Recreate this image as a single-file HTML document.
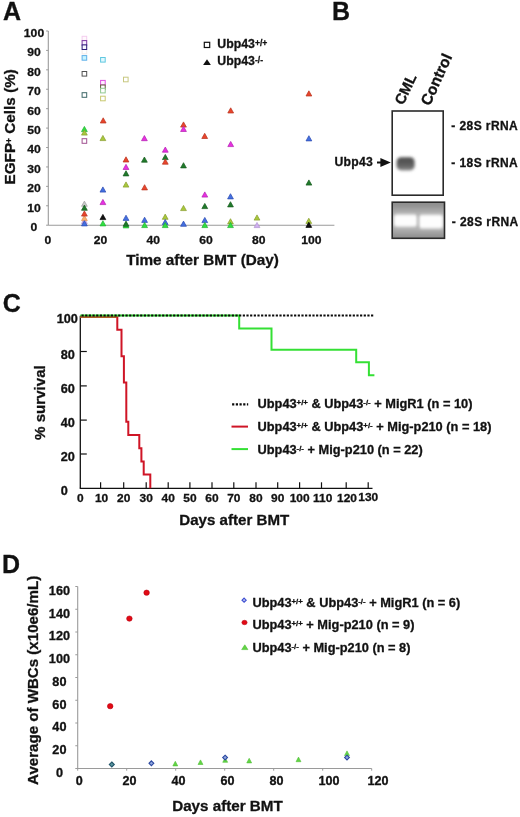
<!DOCTYPE html>
<html><head><meta charset="utf-8"><style>
html,body{margin:0;padding:0;background:#fff;}
svg{display:block;filter:blur(0.35px);}
text{font-family:"Liberation Sans", sans-serif;stroke:#111;stroke-width:0.3px;paint-order:stroke;}
</style></head><body>
<svg width="520" height="817" viewBox="0 0 520 817">
<rect width="520" height="817" fill="#fff"/>
<text x="3.10" y="20.40" font-size="25" text-anchor="start" font-weight="bold" fill="#111" >A</text>
<text x="332.10" y="20.40" font-size="25" text-anchor="start" font-weight="bold" fill="#111" >B</text>
<text x="2.80" y="311.60" font-size="25" text-anchor="start" font-weight="bold" fill="#111" >C</text>
<text x="2.00" y="572.80" font-size="25" text-anchor="start" font-weight="bold" fill="#111" >D</text>
<line x1="48.3" y1="31.0" x2="48.3" y2="225.2" stroke="#9a9a9a" stroke-width="1.1"/>
<line x1="48.3" y1="225.2" x2="334.4" y2="225.2" stroke="#9a9a9a" stroke-width="1.1"/>
<line x1="46.099999999999994" y1="225.20" x2="48.3" y2="225.20" stroke="#9a9a9a" stroke-width="1"/>
<text x="0" y="0" transform="translate(34.00 231.10) scale(1.03 1.0)" font-size="11.8" text-anchor="middle" font-weight="bold" fill="#111" >0</text>
<line x1="46.099999999999994" y1="205.78" x2="48.3" y2="205.78" stroke="#9a9a9a" stroke-width="1"/>
<text x="0" y="0" transform="translate(34.00 211.68) scale(1.03 1.0)" font-size="11.8" text-anchor="middle" font-weight="bold" fill="#111" >10</text>
<line x1="46.099999999999994" y1="186.36" x2="48.3" y2="186.36" stroke="#9a9a9a" stroke-width="1"/>
<text x="0" y="0" transform="translate(34.00 192.26) scale(1.03 1.0)" font-size="11.8" text-anchor="middle" font-weight="bold" fill="#111" >20</text>
<line x1="46.099999999999994" y1="166.94" x2="48.3" y2="166.94" stroke="#9a9a9a" stroke-width="1"/>
<text x="0" y="0" transform="translate(34.00 172.84) scale(1.03 1.0)" font-size="11.8" text-anchor="middle" font-weight="bold" fill="#111" >30</text>
<line x1="46.099999999999994" y1="147.52" x2="48.3" y2="147.52" stroke="#9a9a9a" stroke-width="1"/>
<text x="0" y="0" transform="translate(34.00 153.42) scale(1.03 1.0)" font-size="11.8" text-anchor="middle" font-weight="bold" fill="#111" >40</text>
<line x1="46.099999999999994" y1="128.10" x2="48.3" y2="128.10" stroke="#9a9a9a" stroke-width="1"/>
<text x="0" y="0" transform="translate(34.00 134.00) scale(1.03 1.0)" font-size="11.8" text-anchor="middle" font-weight="bold" fill="#111" >50</text>
<line x1="46.099999999999994" y1="108.68" x2="48.3" y2="108.68" stroke="#9a9a9a" stroke-width="1"/>
<text x="0" y="0" transform="translate(34.00 114.58) scale(1.03 1.0)" font-size="11.8" text-anchor="middle" font-weight="bold" fill="#111" >60</text>
<line x1="46.099999999999994" y1="89.26" x2="48.3" y2="89.26" stroke="#9a9a9a" stroke-width="1"/>
<text x="0" y="0" transform="translate(34.00 95.16) scale(1.03 1.0)" font-size="11.8" text-anchor="middle" font-weight="bold" fill="#111" >70</text>
<line x1="46.099999999999994" y1="69.84" x2="48.3" y2="69.84" stroke="#9a9a9a" stroke-width="1"/>
<text x="0" y="0" transform="translate(34.00 75.74) scale(1.03 1.0)" font-size="11.8" text-anchor="middle" font-weight="bold" fill="#111" >80</text>
<line x1="46.099999999999994" y1="50.42" x2="48.3" y2="50.42" stroke="#9a9a9a" stroke-width="1"/>
<text x="0" y="0" transform="translate(34.00 56.32) scale(1.03 1.0)" font-size="11.8" text-anchor="middle" font-weight="bold" fill="#111" >90</text>
<line x1="46.099999999999994" y1="31.00" x2="48.3" y2="31.00" stroke="#9a9a9a" stroke-width="1"/>
<text x="0" y="0" transform="translate(34.00 36.90) scale(1.03 1.0)" font-size="11.8" text-anchor="middle" font-weight="bold" fill="#111" >100</text>
<text x="0" y="0" transform="translate(47.90 244.10) scale(1.03 1.0)" font-size="11.8" text-anchor="middle" font-weight="bold" fill="#111" >0</text>
<text x="0" y="0" transform="translate(100.60 244.10) scale(1.03 1.0)" font-size="11.8" text-anchor="middle" font-weight="bold" fill="#111" >20</text>
<text x="0" y="0" transform="translate(153.30 244.10) scale(1.03 1.0)" font-size="11.8" text-anchor="middle" font-weight="bold" fill="#111" >40</text>
<text x="0" y="0" transform="translate(206.00 244.10) scale(1.03 1.0)" font-size="11.8" text-anchor="middle" font-weight="bold" fill="#111" >60</text>
<text x="0" y="0" transform="translate(258.70 244.10) scale(1.03 1.0)" font-size="11.8" text-anchor="middle" font-weight="bold" fill="#111" >80</text>
<text x="0" y="0" transform="translate(311.40 244.10) scale(1.03 1.0)" font-size="11.8" text-anchor="middle" font-weight="bold" fill="#111" >100</text>
<text x="15.10" y="126.80" font-size="15.3" text-anchor="middle" font-weight="bold" fill="#111" transform="rotate(-90 15.1 126.8)">EGFP<tspan font-size="8.5" dy="-3.4">+</tspan><tspan dy="3.4"> Cells (%)</tspan></text>
<text x="126.20" y="264.60" font-size="15.3" text-anchor="start" font-weight="bold" fill="#111" >Time after BMT (Day)</text>
<rect x="82.10" y="49.30" width="4.6" height="4.6" fill="#ffffff" stroke="#f4ecea" stroke-width="1.0"/>
<rect x="82.10" y="36.30" width="4.6" height="4.6" fill="#fff8fd" stroke="#f4cdee" stroke-width="1.0"/>
<rect x="82.10" y="40.60" width="4.6" height="4.6" fill="#f8f0ff" stroke="#7a38a0" stroke-width="1.0"/>
<rect x="82.10" y="44.90" width="4.6" height="4.6" fill="#f8f8ff" stroke="#2c1c78" stroke-width="1.0"/>
<rect x="82.10" y="55.60" width="4.6" height="4.6" fill="#c8f4ff" stroke="#60b0e8" stroke-width="1.0"/>
<rect x="82.10" y="71.50" width="4.6" height="4.6" fill="#ffffff" stroke="#505050" stroke-width="1.0"/>
<rect x="82.10" y="92.70" width="4.6" height="4.6" fill="#ffffff" stroke="#3e6868" stroke-width="1.0"/>
<rect x="82.10" y="138.70" width="4.6" height="4.6" fill="#ffffff" stroke="#a05090" stroke-width="1.0"/>
<rect x="100.60" y="57.50" width="4.6" height="4.6" fill="#e0f8ff" stroke="#60c8e0" stroke-width="1.0"/>
<rect x="100.60" y="80.40" width="4.6" height="4.6" fill="#fff0ff" stroke="#e050e0" stroke-width="1.0"/>
<rect x="100.60" y="85.00" width="4.6" height="4.6" fill="#ffffff" stroke="#605838" stroke-width="1.0"/>
<rect x="100.60" y="88.30" width="4.6" height="4.6" fill="#ffffff" stroke="#90c890" stroke-width="1.0"/>
<rect x="100.60" y="96.20" width="4.6" height="4.6" fill="#ffffff" stroke="#c8c870" stroke-width="1.0"/>
<rect x="123.50" y="77.20" width="4.6" height="4.6" fill="#ffffff" stroke="#c8c880" stroke-width="1.0"/>
<path d="M84.40 126.40 L87.30 131.60 L81.50 131.60 Z" fill="#30e040" stroke="#20b030" stroke-width="0.7" stroke-linejoin="miter"/>
<path d="M84.40 129.90 L87.30 135.10 L81.50 135.10 Z" fill="#a8c83c" stroke="#889c2c" stroke-width="0.7" stroke-linejoin="miter"/>
<path d="M84.40 218.40 L87.30 223.60 L81.50 223.60 Z" fill="#d0b0f0" stroke="#b090d0" stroke-width="0.7" stroke-linejoin="miter"/>
<path d="M84.40 201.10 L87.30 206.30 L81.50 206.30 Z" fill="#c8c8c8" stroke="#a0a0a0" stroke-width="0.7" stroke-linejoin="miter"/>
<path d="M84.40 205.10 L87.30 210.30 L81.50 210.30 Z" fill="#1f7a2a" stroke="#155a1c" stroke-width="0.7" stroke-linejoin="miter"/>
<path d="M84.40 215.40 L87.30 220.60 L81.50 220.60 Z" fill="#f8b070" stroke="#e09050" stroke-width="0.7" stroke-linejoin="miter"/>
<path d="M84.40 210.90 L87.30 216.10 L81.50 216.10 Z" fill="#e8452c" stroke="#b8301c" stroke-width="0.7" stroke-linejoin="miter"/>
<path d="M84.40 220.70 L87.30 225.90 L81.50 225.90 Z" fill="#4470e0" stroke="#2848b0" stroke-width="0.7" stroke-linejoin="miter"/>
<path d="M103.20 117.80 L106.10 123.00 L100.30 123.00 Z" fill="#e8452c" stroke="#b8301c" stroke-width="0.7" stroke-linejoin="miter"/>
<path d="M102.90 135.40 L105.80 140.60 L100.00 140.60 Z" fill="#a8c83c" stroke="#889c2c" stroke-width="0.7" stroke-linejoin="miter"/>
<path d="M102.90 186.90 L105.80 192.10 L100.00 192.10 Z" fill="#4470e0" stroke="#2848b0" stroke-width="0.7" stroke-linejoin="miter"/>
<path d="M102.90 199.40 L105.80 204.60 L100.00 204.60 Z" fill="#e830e0" stroke="#b020b0" stroke-width="0.7" stroke-linejoin="miter"/>
<path d="M102.90 214.40 L105.80 219.60 L100.00 219.60 Z" fill="#111111" stroke="#000000" stroke-width="0.7" stroke-linejoin="miter"/>
<path d="M102.90 220.70 L105.80 225.90 L100.00 225.90 Z" fill="#30e040" stroke="#20b030" stroke-width="0.7" stroke-linejoin="miter"/>
<path d="M126.00 156.80 L128.90 162.00 L123.10 162.00 Z" fill="#e8452c" stroke="#b8301c" stroke-width="0.7" stroke-linejoin="miter"/>
<path d="M126.00 164.30 L128.90 169.50 L123.10 169.50 Z" fill="#e830e0" stroke="#b020b0" stroke-width="0.7" stroke-linejoin="miter"/>
<path d="M126.00 170.70 L128.90 175.90 L123.10 175.90 Z" fill="#1f7a2a" stroke="#155a1c" stroke-width="0.7" stroke-linejoin="miter"/>
<path d="M126.00 181.90 L128.90 187.10 L123.10 187.10 Z" fill="#a8c83c" stroke="#889c2c" stroke-width="0.7" stroke-linejoin="miter"/>
<path d="M126.00 215.20 L128.90 220.40 L123.10 220.40 Z" fill="#4470e0" stroke="#2848b0" stroke-width="0.7" stroke-linejoin="miter"/>
<path d="M126.00 222.70 L128.90 227.90 L123.10 227.90 Z" fill="#30e040" stroke="#20b030" stroke-width="0.7" stroke-linejoin="miter"/>
<path d="M126.00 221.10 L128.90 226.30 L123.10 226.30 Z" fill="#1f7a2a" stroke="#155a1c" stroke-width="0.7" stroke-linejoin="miter"/>
<path d="M144.40 135.50 L147.30 140.70 L141.50 140.70 Z" fill="#e830e0" stroke="#b020b0" stroke-width="0.7" stroke-linejoin="miter"/>
<path d="M144.40 157.00 L147.30 162.20 L141.50 162.20 Z" fill="#1f7a2a" stroke="#155a1c" stroke-width="0.7" stroke-linejoin="miter"/>
<path d="M144.60 184.70 L147.50 189.90 L141.70 189.90 Z" fill="#e8452c" stroke="#b8301c" stroke-width="0.7" stroke-linejoin="miter"/>
<path d="M144.60 217.20 L147.50 222.40 L141.70 222.40 Z" fill="#4470e0" stroke="#2848b0" stroke-width="0.7" stroke-linejoin="miter"/>
<path d="M144.60 222.40 L147.50 227.60 L141.70 227.60 Z" fill="#30e040" stroke="#20b030" stroke-width="0.7" stroke-linejoin="miter"/>
<path d="M165.30 147.00 L168.20 152.20 L162.40 152.20 Z" fill="#e830e0" stroke="#b020b0" stroke-width="0.7" stroke-linejoin="miter"/>
<path d="M165.30 154.40 L168.20 159.60 L162.40 159.60 Z" fill="#1f7a2a" stroke="#155a1c" stroke-width="0.7" stroke-linejoin="miter"/>
<path d="M165.30 159.00 L168.20 164.20 L162.40 164.20 Z" fill="#e8452c" stroke="#b8301c" stroke-width="0.7" stroke-linejoin="miter"/>
<path d="M165.20 214.10 L168.10 219.30 L162.30 219.30 Z" fill="#a8c83c" stroke="#889c2c" stroke-width="0.7" stroke-linejoin="miter"/>
<path d="M165.20 219.40 L168.10 224.60 L162.30 224.60 Z" fill="#4470e0" stroke="#2848b0" stroke-width="0.7" stroke-linejoin="miter"/>
<path d="M165.20 222.40 L168.10 227.60 L162.30 227.60 Z" fill="#30e040" stroke="#20b030" stroke-width="0.7" stroke-linejoin="miter"/>
<path d="M183.50 121.90 L186.40 127.10 L180.60 127.10 Z" fill="#e8452c" stroke="#b8301c" stroke-width="0.7" stroke-linejoin="miter"/>
<path d="M183.50 126.30 L186.40 131.50 L180.60 131.50 Z" fill="#e830e0" stroke="#b020b0" stroke-width="0.7" stroke-linejoin="miter"/>
<path d="M183.50 162.70 L186.40 167.90 L180.60 167.90 Z" fill="#1f7a2a" stroke="#155a1c" stroke-width="0.7" stroke-linejoin="miter"/>
<path d="M183.50 205.40 L186.40 210.60 L180.60 210.60 Z" fill="#a8c83c" stroke="#889c2c" stroke-width="0.7" stroke-linejoin="miter"/>
<path d="M183.50 221.10 L186.40 226.30 L180.60 226.30 Z" fill="#4470e0" stroke="#2848b0" stroke-width="0.7" stroke-linejoin="miter"/>
<path d="M204.70 133.30 L207.60 138.50 L201.80 138.50 Z" fill="#e8452c" stroke="#b8301c" stroke-width="0.7" stroke-linejoin="miter"/>
<path d="M204.80 191.90 L207.70 197.10 L201.90 197.10 Z" fill="#e830e0" stroke="#b020b0" stroke-width="0.7" stroke-linejoin="miter"/>
<path d="M204.80 203.40 L207.70 208.60 L201.90 208.60 Z" fill="#1f7a2a" stroke="#155a1c" stroke-width="0.7" stroke-linejoin="miter"/>
<path d="M204.80 217.40 L207.70 222.60 L201.90 222.60 Z" fill="#4470e0" stroke="#2848b0" stroke-width="0.7" stroke-linejoin="miter"/>
<path d="M204.80 222.40 L207.70 227.60 L201.90 227.60 Z" fill="#30e040" stroke="#20b030" stroke-width="0.7" stroke-linejoin="miter"/>
<path d="M230.70 107.80 L233.60 113.00 L227.80 113.00 Z" fill="#e8452c" stroke="#b8301c" stroke-width="0.7" stroke-linejoin="miter"/>
<path d="M230.70 141.40 L233.60 146.60 L227.80 146.60 Z" fill="#e830e0" stroke="#b020b0" stroke-width="0.7" stroke-linejoin="miter"/>
<path d="M230.50 193.70 L233.40 198.90 L227.60 198.90 Z" fill="#4470e0" stroke="#2848b0" stroke-width="0.7" stroke-linejoin="miter"/>
<path d="M230.50 201.70 L233.40 206.90 L227.60 206.90 Z" fill="#1f7a2a" stroke="#155a1c" stroke-width="0.7" stroke-linejoin="miter"/>
<path d="M230.50 218.70 L233.40 223.90 L227.60 223.90 Z" fill="#a8c83c" stroke="#889c2c" stroke-width="0.7" stroke-linejoin="miter"/>
<path d="M230.50 222.40 L233.40 227.60 L227.60 227.60 Z" fill="#30e040" stroke="#20b030" stroke-width="0.7" stroke-linejoin="miter"/>
<path d="M257.00 214.90 L259.90 220.10 L254.10 220.10 Z" fill="#a8c83c" stroke="#889c2c" stroke-width="0.7" stroke-linejoin="miter"/>
<path d="M257.00 222.40 L259.90 227.60 L254.10 227.60 Z" fill="#d0b0f0" stroke="#b090d0" stroke-width="0.7" stroke-linejoin="miter"/>
<path d="M308.90 90.80 L311.80 96.00 L306.00 96.00 Z" fill="#e8452c" stroke="#b8301c" stroke-width="0.7" stroke-linejoin="miter"/>
<path d="M308.90 135.70 L311.80 140.90 L306.00 140.90 Z" fill="#4470e0" stroke="#2848b0" stroke-width="0.7" stroke-linejoin="miter"/>
<path d="M308.90 179.90 L311.80 185.10 L306.00 185.10 Z" fill="#1f7a2a" stroke="#155a1c" stroke-width="0.7" stroke-linejoin="miter"/>
<path d="M308.80 218.20 L311.70 223.40 L305.90 223.40 Z" fill="#a8c83c" stroke="#889c2c" stroke-width="0.7" stroke-linejoin="miter"/>
<path d="M308.80 222.20 L311.70 227.40 L305.90 227.40 Z" fill="#111111" stroke="#000000" stroke-width="0.7" stroke-linejoin="miter"/>
<rect x="204.3" y="42.3" width="5.4" height="5.2" fill="none" stroke="#111" stroke-width="1.2"/>
<path d="M207 59.3 L210.9 65 L203.1 65 Z" fill="#111"/>
<text x="217.30" y="47.90" font-size="12.3" text-anchor="start" font-weight="bold" fill="#111" >Ubp43<tspan font-size="8.6" dy="-2.0">+/+</tspan></text>
<text x="217.30" y="64.80" font-size="12.3" text-anchor="start" font-weight="bold" fill="#111" >Ubp43<tspan font-size="8.6" dy="-2.0">-/-</tspan></text>
<text x="0.00" y="0.00" font-size="14.8" text-anchor="start" font-weight="bold" fill="#111" transform="translate(403.2 105.8) rotate(-64.6)">CML</text>
<text x="0.00" y="0.00" font-size="15.4" text-anchor="start" font-weight="bold" fill="#111" transform="translate(429.8 106.5) rotate(-65.5)">Control</text>
<defs><filter id="bl" x="-50%" y="-50%" width="200%" height="200%"><feGaussianBlur stdDeviation="1.6"/></filter><filter id="bl2" x="-30%" y="-80%" width="160%" height="260%"><feGaussianBlur stdDeviation="1.7"/></filter><filter id="bl3" x="-30%" y="-80%" width="160%" height="260%"><feGaussianBlur stdDeviation="3"/></filter><filter id="bl4" x="-300%" y="-50%" width="700%" height="200%"><feGaussianBlur stdDeviation="0.8"/></filter><clipPath id="gclip"><rect x="392.2" y="202.2" width="52.3" height="36.1"/></clipPath></defs>
<rect x="392.2" y="111" width="51" height="84.2" fill="white" stroke="#2a2a2a" stroke-width="1.6"/>
<linearGradient id="bandg" x1="0" y1="0" x2="0" y2="1"><stop offset="0" stop-color="#4c4c4c"/><stop offset="0.6" stop-color="#5e5e5e"/><stop offset="1" stop-color="#8a8a8a"/></linearGradient>
<g filter="url(#bl)"><rect x="396.6" y="157.2" width="18" height="13.2" rx="4.5" fill="url(#bandg)"/></g>
<rect x="392.2" y="202.2" width="52.3" height="36.1" fill="#8e8e8e"/>
<g clip-path="url(#gclip)"><g filter="url(#bl3)"><rect x="390" y="209" width="58" height="24" fill="#b4b4b4"/></g><g filter="url(#bl2)"><rect x="393.8" y="214.4" width="23.4" height="12.4" rx="3" fill="#fdfdfd"/><rect x="418.9" y="214.8" width="24.2" height="13.8" rx="3" fill="#fdfdfd"/></g><g filter="url(#bl4)"><rect x="417.6" y="213" width="1.0" height="17" fill="#b0b0b0"/></g></g>
<rect x="392.2" y="202.2" width="52.3" height="36.1" fill="none" stroke="#2a2a2a" stroke-width="1.6"/>
<text x="451.30" y="130.10" font-size="12" text-anchor="start" font-weight="bold" fill="#111" letter-spacing="0.42">- 28S rRNA</text>
<text x="451.30" y="167.00" font-size="12" text-anchor="start" font-weight="bold" fill="#111" letter-spacing="0.42">- 18S rRNA</text>
<text x="451.80" y="226.00" font-size="12" text-anchor="start" font-weight="bold" fill="#111" letter-spacing="0.42">- 28S rRNA</text>
<text x="334.40" y="166.20" font-size="12.2" text-anchor="start" font-weight="bold" fill="#111" letter-spacing="0.3">Ubp43</text>
<path d="M377 162.5 L382 162.5" stroke="#111" stroke-width="2"/><path d="M380.4 157.9 L390.8 162.5 L380.4 167.1 Z" fill="#111"/>
<line x1="80.3" y1="315.7" x2="80.3" y2="488.3" stroke="#111" stroke-width="1.3"/>
<line x1="79.7" y1="488.3" x2="372.5" y2="488.3" stroke="#111" stroke-width="1.3"/>
<line x1="80.3" y1="316.20" x2="86.8" y2="316.20" stroke="#111" stroke-width="1.2"/>
<text x="0" y="0" transform="translate(56.70 323.20) scale(1.06 1.0)" font-size="12" text-anchor="start" font-weight="bold" fill="#111" >100</text>
<line x1="80.3" y1="351.50" x2="86.8" y2="351.50" stroke="#111" stroke-width="1.2"/>
<text x="0" y="0" transform="translate(60.70 358.50) scale(1.06 1.0)" font-size="12" text-anchor="start" font-weight="bold" fill="#111" >80</text>
<line x1="80.3" y1="385.90" x2="86.8" y2="385.90" stroke="#111" stroke-width="1.2"/>
<text x="0" y="0" transform="translate(60.70 392.90) scale(1.06 1.0)" font-size="12" text-anchor="start" font-weight="bold" fill="#111" >60</text>
<line x1="80.3" y1="420.10" x2="86.8" y2="420.10" stroke="#111" stroke-width="1.2"/>
<text x="0" y="0" transform="translate(60.70 427.10) scale(1.06 1.0)" font-size="12" text-anchor="start" font-weight="bold" fill="#111" >40</text>
<line x1="80.3" y1="454.00" x2="86.8" y2="454.00" stroke="#111" stroke-width="1.2"/>
<text x="0" y="0" transform="translate(60.70 461.00) scale(1.06 1.0)" font-size="12" text-anchor="start" font-weight="bold" fill="#111" >20</text>
<text x="0" y="0" transform="translate(60.70 495.40) scale(1.06 1.0)" font-size="12" text-anchor="start" font-weight="bold" fill="#111" >0</text>
<text x="0" y="0" transform="translate(80.20 501.90) scale(1.03 1.0)" font-size="11.6" text-anchor="middle" font-weight="bold" fill="#111" >0</text>
<line x1="100.60" y1="488.3" x2="100.60" y2="482.3" stroke="#111" stroke-width="1.2"/>
<text x="0" y="0" transform="translate(101.60 501.90) scale(1.03 1.0)" font-size="11.6" text-anchor="middle" font-weight="bold" fill="#111" >10</text>
<line x1="123.70" y1="488.3" x2="123.70" y2="482.3" stroke="#111" stroke-width="1.2"/>
<text x="0" y="0" transform="translate(123.70 501.90) scale(1.03 1.0)" font-size="11.6" text-anchor="middle" font-weight="bold" fill="#111" >20</text>
<line x1="146.20" y1="488.3" x2="146.20" y2="482.3" stroke="#111" stroke-width="1.2"/>
<text x="0" y="0" transform="translate(146.20 501.90) scale(1.03 1.0)" font-size="11.6" text-anchor="middle" font-weight="bold" fill="#111" >30</text>
<line x1="168.20" y1="488.3" x2="168.20" y2="482.3" stroke="#111" stroke-width="1.2"/>
<text x="0" y="0" transform="translate(168.20 501.90) scale(1.03 1.0)" font-size="11.6" text-anchor="middle" font-weight="bold" fill="#111" >40</text>
<line x1="189.90" y1="488.3" x2="189.90" y2="482.3" stroke="#111" stroke-width="1.2"/>
<text x="0" y="0" transform="translate(189.90 501.90) scale(1.03 1.0)" font-size="11.6" text-anchor="middle" font-weight="bold" fill="#111" >50</text>
<line x1="212.00" y1="488.3" x2="212.00" y2="482.3" stroke="#111" stroke-width="1.2"/>
<text x="0" y="0" transform="translate(212.00 501.90) scale(1.03 1.0)" font-size="11.6" text-anchor="middle" font-weight="bold" fill="#111" >60</text>
<line x1="233.80" y1="488.3" x2="233.80" y2="482.3" stroke="#111" stroke-width="1.2"/>
<text x="0" y="0" transform="translate(233.80 501.90) scale(1.03 1.0)" font-size="11.6" text-anchor="middle" font-weight="bold" fill="#111" >70</text>
<line x1="256.00" y1="488.3" x2="256.00" y2="482.3" stroke="#111" stroke-width="1.2"/>
<text x="0" y="0" transform="translate(256.00 501.90) scale(1.03 1.0)" font-size="11.6" text-anchor="middle" font-weight="bold" fill="#111" >80</text>
<line x1="277.70" y1="488.3" x2="277.70" y2="482.3" stroke="#111" stroke-width="1.2"/>
<text x="0" y="0" transform="translate(277.70 501.90) scale(1.03 1.0)" font-size="11.6" text-anchor="middle" font-weight="bold" fill="#111" >90</text>
<line x1="299.60" y1="488.3" x2="299.60" y2="482.3" stroke="#111" stroke-width="1.2"/>
<text x="0" y="0" transform="translate(299.60 501.90) scale(1.03 1.0)" font-size="11.6" text-anchor="middle" font-weight="bold" fill="#111" >100</text>
<line x1="321.50" y1="488.3" x2="321.50" y2="482.3" stroke="#111" stroke-width="1.2"/>
<text x="0" y="0" transform="translate(322.70 501.90) scale(1.03 1.0)" font-size="11.6" text-anchor="middle" font-weight="bold" fill="#111" >110</text>
<line x1="346.20" y1="488.3" x2="346.20" y2="482.3" stroke="#111" stroke-width="1.2"/>
<text x="0" y="0" transform="translate(347.00 501.90) scale(1.03 1.0)" font-size="11.6" text-anchor="middle" font-weight="bold" fill="#111" >120</text>
<line x1="368.20" y1="488.3" x2="368.20" y2="482.3" stroke="#111" stroke-width="1.2"/>
<text x="0" y="0" transform="translate(368.20 500.90) scale(1.03 1.0)" font-size="11.6" text-anchor="middle" font-weight="bold" fill="#111" >130</text>
<text x="44.80" y="402.60" font-size="15.1" text-anchor="middle" font-weight="bold" fill="#111" transform="rotate(-90 44.8 402.6)">% survival</text>
<text x="179.30" y="524.50" font-size="15.1" text-anchor="start" font-weight="bold" fill="#111" >Days after BMT</text>
<polyline points="80.3,317.0 117.3,317.0 117.3,329.8 121.5,329.8 121.5,356.2 123.9,356.2 123.9,382.5 126.3,382.5 126.3,421.7 128.3,421.7 128.3,434.9 139.3,434.9 139.3,448.3 141.4,448.3 141.4,461.6 143.7,461.6 143.7,474.4 150.3,474.4 150.3,488.3" fill="none" stroke="#cf1526" stroke-width="2"/>
<polyline points="80.3,315.6 239.2,315.6 239.2,328.4 271.5,328.4 271.5,349.8 356.2,349.8 356.2,362.3 368.9,362.3 368.9,375.3 374.4,375.3" fill="none" stroke="#34e034" stroke-width="2"/>
<line x1="80.3" y1="317.4" x2="116.6" y2="317.4" stroke="#b0602a" stroke-width="1.3"/>
<line x1="81.5" y1="315.5" x2="373.3" y2="315.5" stroke="#0a0a0a" stroke-width="2.2" stroke-dasharray="2.2 1.465"/>
<line x1="232.1" y1="404.3" x2="248.2" y2="404.3" stroke="#0a0a0a" stroke-width="2.2" stroke-dasharray="2.2 1.5"/>
<line x1="231.5" y1="426.6" x2="248" y2="426.6" stroke="#cf1526" stroke-width="2"/>
<line x1="231.5" y1="449.1" x2="248" y2="449.1" stroke="#34e034" stroke-width="2"/>
<text x="257.50" y="408.30" font-size="12.8" text-anchor="start" font-weight="bold" fill="#111" >Ubp43<tspan font-size="7.8" dy="-2.9">+/+</tspan><tspan dy="2.9"> &amp; Ubp43</tspan><tspan font-size="7.8" dy="-2.9">-/-</tspan><tspan dy="2.9"> + MigR1 (n = 10)</tspan></text>
<text x="257.50" y="431.10" font-size="12.8" text-anchor="start" font-weight="bold" fill="#111" >Ubp43<tspan font-size="7.8" dy="-2.9">+/+</tspan><tspan dy="2.9"> &amp; Ubp43</tspan><tspan font-size="7.8" dy="-2.9">+/-</tspan><tspan dy="2.9"> + Mig-p210 (n = 18)</tspan></text>
<text x="257.50" y="453.60" font-size="12.8" text-anchor="start" font-weight="bold" fill="#111" >Ubp43<tspan font-size="7.8" dy="-2.9">-/-</tspan><tspan dy="2.9"> + Mig-p210 (n = 22)</tspan></text>
<line x1="77.7" y1="586.5" x2="77.7" y2="768.5" stroke="#9a9a9a" stroke-width="1.1"/>
<line x1="76.5" y1="768.5" x2="371.7" y2="768.5" stroke="#9a9a9a" stroke-width="1.1"/>
<line x1="75.3" y1="768.50" x2="77.7" y2="768.50" stroke="#9a9a9a" stroke-width="1"/>
<text x="0" y="0" transform="translate(59.40 776.80) scale(1.04 1.0)" font-size="12.2" text-anchor="middle" font-weight="bold" fill="#111" >0</text>
<line x1="75.3" y1="745.75" x2="77.7" y2="745.75" stroke="#9a9a9a" stroke-width="1"/>
<text x="0" y="0" transform="translate(59.40 754.05) scale(1.04 1.0)" font-size="12.2" text-anchor="middle" font-weight="bold" fill="#111" >20</text>
<line x1="75.3" y1="723.00" x2="77.7" y2="723.00" stroke="#9a9a9a" stroke-width="1"/>
<text x="0" y="0" transform="translate(59.40 731.30) scale(1.04 1.0)" font-size="12.2" text-anchor="middle" font-weight="bold" fill="#111" >40</text>
<line x1="75.3" y1="700.25" x2="77.7" y2="700.25" stroke="#9a9a9a" stroke-width="1"/>
<text x="0" y="0" transform="translate(59.40 708.55) scale(1.04 1.0)" font-size="12.2" text-anchor="middle" font-weight="bold" fill="#111" >60</text>
<line x1="75.3" y1="677.50" x2="77.7" y2="677.50" stroke="#9a9a9a" stroke-width="1"/>
<text x="0" y="0" transform="translate(59.40 685.80) scale(1.04 1.0)" font-size="12.2" text-anchor="middle" font-weight="bold" fill="#111" >80</text>
<line x1="75.3" y1="654.75" x2="77.7" y2="654.75" stroke="#9a9a9a" stroke-width="1"/>
<text x="0" y="0" transform="translate(59.40 663.05) scale(1.04 1.0)" font-size="12.2" text-anchor="middle" font-weight="bold" fill="#111" >100</text>
<line x1="75.3" y1="632.00" x2="77.7" y2="632.00" stroke="#9a9a9a" stroke-width="1"/>
<text x="0" y="0" transform="translate(59.40 640.30) scale(1.04 1.0)" font-size="12.2" text-anchor="middle" font-weight="bold" fill="#111" >120</text>
<line x1="75.3" y1="609.25" x2="77.7" y2="609.25" stroke="#9a9a9a" stroke-width="1"/>
<text x="0" y="0" transform="translate(59.40 617.55) scale(1.04 1.0)" font-size="12.2" text-anchor="middle" font-weight="bold" fill="#111" >140</text>
<line x1="75.3" y1="586.50" x2="77.7" y2="586.50" stroke="#9a9a9a" stroke-width="1"/>
<text x="0" y="0" transform="translate(59.40 594.80) scale(1.04 1.0)" font-size="12.2" text-anchor="middle" font-weight="bold" fill="#111" >160</text>
<line x1="77.70" y1="768.5" x2="77.70" y2="770.7" stroke="#9a9a9a" stroke-width="1"/>
<text x="0" y="0" transform="translate(75.70 785.30) scale(1.05 1.0)" font-size="12" text-anchor="start" font-weight="bold" fill="#111" >0</text>
<line x1="126.70" y1="768.5" x2="126.70" y2="770.7" stroke="#9a9a9a" stroke-width="1"/>
<text x="0" y="0" transform="translate(122.50 785.30) scale(1.05 1.0)" font-size="12" text-anchor="start" font-weight="bold" fill="#111" >20</text>
<line x1="175.70" y1="768.5" x2="175.70" y2="770.7" stroke="#9a9a9a" stroke-width="1"/>
<text x="0" y="0" transform="translate(171.50 785.30) scale(1.05 1.0)" font-size="12" text-anchor="start" font-weight="bold" fill="#111" >40</text>
<line x1="224.70" y1="768.5" x2="224.70" y2="770.7" stroke="#9a9a9a" stroke-width="1"/>
<text x="0" y="0" transform="translate(220.50 785.30) scale(1.05 1.0)" font-size="12" text-anchor="start" font-weight="bold" fill="#111" >60</text>
<line x1="273.70" y1="768.5" x2="273.70" y2="770.7" stroke="#9a9a9a" stroke-width="1"/>
<text x="0" y="0" transform="translate(269.50 785.30) scale(1.05 1.0)" font-size="12" text-anchor="start" font-weight="bold" fill="#111" >80</text>
<line x1="322.70" y1="768.5" x2="322.70" y2="770.7" stroke="#9a9a9a" stroke-width="1"/>
<text x="0" y="0" transform="translate(318.50 785.30) scale(1.05 1.0)" font-size="12" text-anchor="start" font-weight="bold" fill="#111" >100</text>
<line x1="371.70" y1="768.5" x2="371.70" y2="770.7" stroke="#9a9a9a" stroke-width="1"/>
<text x="0" y="0" transform="translate(367.50 785.30) scale(1.05 1.0)" font-size="12" text-anchor="start" font-weight="bold" fill="#111" >120</text>
<text x="0.00" y="0.00" font-size="15.1" text-anchor="middle" font-weight="bold" fill="#111" transform="translate(37.8 680.4) rotate(-90)">Average of WBCs (x10e6/mL)</text>
<text x="172.20" y="811.40" font-size="15.2" text-anchor="start" font-weight="bold" fill="#111" >Days after BMT</text>
<ellipse cx="146.6" cy="592.7" rx="2.75" ry="2.65" fill="#e20a14" stroke="#b80010" stroke-width="0.6"/>
<ellipse cx="129.4" cy="618.6" rx="2.75" ry="2.65" fill="#e20a14" stroke="#b80010" stroke-width="0.6"/>
<ellipse cx="110.2" cy="706.2" rx="2.75" ry="2.65" fill="#e20a14" stroke="#b80010" stroke-width="0.6"/>
<path d="M175.3 761.3000000000001 L177.75 765.9 L172.85000000000002 765.9 Z" fill="#62d444" stroke="#50c038" stroke-width="0.6"/>
<path d="M200.5 759.9000000000001 L202.95 764.5 L198.05 764.5 Z" fill="#62d444" stroke="#50c038" stroke-width="0.6"/>
<path d="M225.2 757.7 L227.64999999999998 762.3 L222.75 762.3 Z" fill="#62d444" stroke="#50c038" stroke-width="0.6"/>
<path d="M249.2 758.3000000000001 L251.64999999999998 762.9 L246.75 762.9 Z" fill="#62d444" stroke="#50c038" stroke-width="0.6"/>
<path d="M298.5 757.1 L300.95 761.6999999999999 L296.05 761.6999999999999 Z" fill="#62d444" stroke="#50c038" stroke-width="0.6"/>
<path d="M347 750.9000000000001 L349.45 755.5 L344.55 755.5 Z" fill="#62d444" stroke="#50c038" stroke-width="0.6"/>
<path d="M151.4 760.9 L153.8 763.3 L151.4 765.6999999999999 L149.0 763.3 Z" fill="#90a8e0" stroke="#2c48a0" stroke-width="1.1"/>
<path d="M225.1 755.2 L227.5 757.6 L225.1 760.0 L222.7 757.6 Z" fill="#90a8e0" stroke="#2c48a0" stroke-width="1.1"/>
<path d="M347 755.2 L349.4 757.6 L347 760.0 L344.6 757.6 Z" fill="#90a8e0" stroke="#2c48a0" stroke-width="1.1"/>
<path d="M111.8 762.0 L114.3 764.5 L111.8 767.0 L109.3 764.5 Z" fill="#5a98a0" stroke="#24566a" stroke-width="1.1"/>
<path d="M244.1 598.1 L246.2 600.2 L244.1 602.3000000000001 L242.0 600.2 Z" fill="#b8c4f4" stroke="#3c4cd0" stroke-width="1.1"/>
<ellipse cx="244.5" cy="622.5" rx="2.6" ry="2.2" fill="#e20a14" stroke="#b80010" stroke-width="0.6"/>
<path d="M244.8 644.8000000000001 L247.9 649.6 L241.70000000000002 649.6 Z" fill="#62d444" stroke="#50c038" stroke-width="0.6"/>
<text x="252.40" y="606.60" font-size="12.8" text-anchor="start" font-weight="bold" fill="#111" >Ubp43<tspan font-size="7.8" dy="-2.9">+/+</tspan><tspan dy="2.9"> &amp; Ubp43</tspan><tspan font-size="7.8" dy="-2.9">-/-</tspan><tspan dy="2.9"> + MigR1 (n = 6)</tspan></text>
<text x="252.40" y="629.20" font-size="12.8" text-anchor="start" font-weight="bold" fill="#111" >Ubp43<tspan font-size="7.8" dy="-2.9">+/+</tspan><tspan dy="2.9"> + Mig-p210 (n = 9)</tspan></text>
<text x="252.40" y="651.60" font-size="12.8" text-anchor="start" font-weight="bold" fill="#111" >Ubp43<tspan font-size="7.8" dy="-2.9">-/-</tspan><tspan dy="2.9"> + Mig-p210 (n = 8)</tspan></text>
</svg>
</body></html>
